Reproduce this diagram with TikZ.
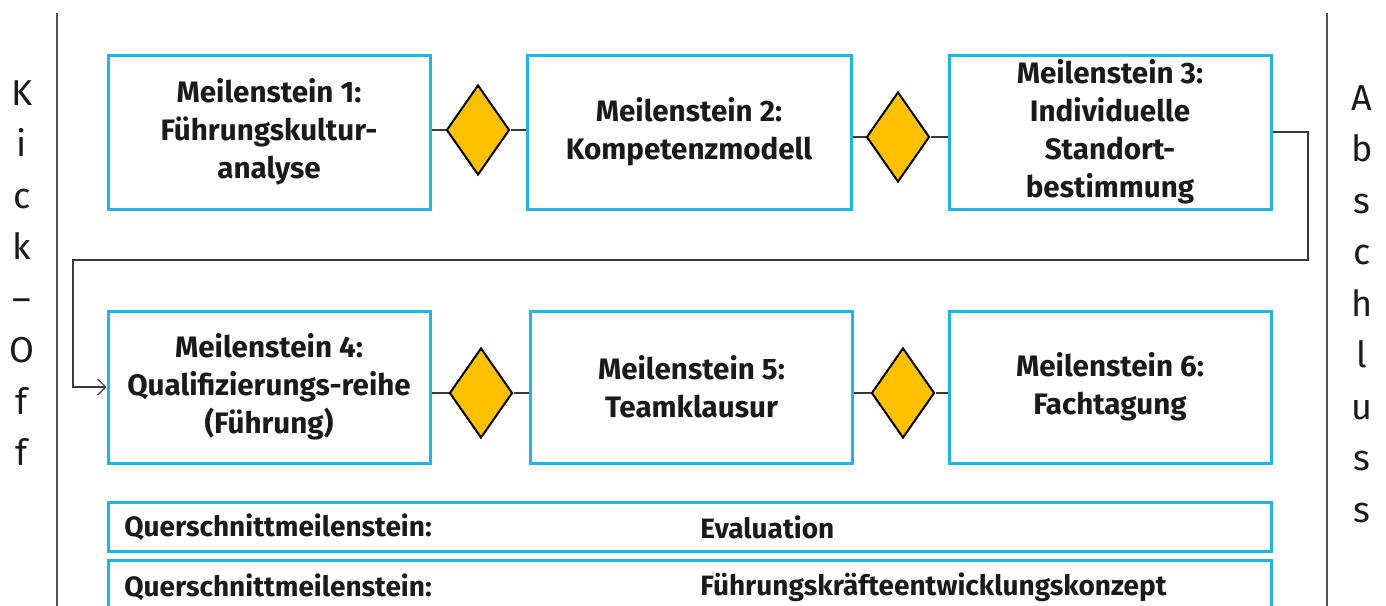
\documentclass[tikz,border=0pt]{standalone}
\usepackage{fontspec}
\setmainfont{Fira Sans}
\usetikzlibrary{shapes.geometric,arrows.meta}
\definecolor{msblue}{HTML}{22B5E3}
\definecolor{msgold}{HTML}{FFC000}
\definecolor{linegray}{HTML}{3A3A3A}
\definecolor{railgray}{HTML}{555555}
\definecolor{inkgray}{HTML}{1A1A1A}

\begin{document}
\begin{tikzpicture}[x=0.5pt,y=-0.5pt,
  milestone/.style={draw=msblue, line width=1.5pt, minimum width=161pt,
    minimum height=77pt, align=center, inner sep=0pt, text=inkgray,
    font=\bfseries\fontsize{14.8}{19}\selectfont},
  gate/.style={diamond, draw=black, line width=1pt, fill=msgold,
    minimum width=31.5pt, minimum height=45pt, inner sep=0pt},
  link/.style={draw=linegray, line width=0.6pt},
  crossbar/.style={draw=msblue, line width=1.5pt, minimum width=581.5pt,
    minimum height=24.5pt, inner sep=0pt},
  crosstext/.style={anchor=west, inner sep=0pt, text=inkgray,
    font=\bfseries\fontsize{14}{16}\selectfont},
  rail/.style={draw=railgray, line width=1pt},
  sideword/.style={align=center, inner sep=0pt, text=inkgray,
    font=\fontsize{18}{25.75}\selectfont}
]
\clip (0,0) rectangle (1386,605);

% start and end rails
\coordinate (kickTop) at (57,13);
\coordinate (kickBot) at (57,610);
\coordinate (endTop) at (1327,13);
\coordinate (endBot) at (1327,610);
\draw[rail] (kickTop) -- (kickBot);
\draw[rail] (endTop) -- (endBot);
\node[sideword] (kick) at (22,273) {K\\i\\c\\k\\–\\O\\f\\f};
\node[sideword] (abschluss) at (1362,304) {A\\b\\s\\c\\h\\l\\u\\s\\s};

% first row of milestones
\node[milestone] (m1) at (269,132) {Meilenstein 1:\\Führungskultur-\\analyse};
\node[milestone, minimum width=162pt] (m2) at (689,132) {Meilenstein 2:\\Kompetenzmodell};
\node[milestone] (m3) at (1110,132) {Meilenstein 3:\\Individuelle\\Standort-\\bestimmung};
\node[gate] (g1) at (478,130) {};
\node[gate] (g2) at (898,137) {};

% second row of milestones
\node[milestone, minimum height=76pt] (m4) at (269,387) {Meilenstein 4:\\Qualifizierungs-reihe\\(Führung)};
\node[milestone, minimum height=76pt] (m5) at (691.5,387) {Meilenstein 5:\\Teamklausur};
\node[milestone, minimum height=76pt] (m6) at (1110,387) {Meilenstein 6:\\Fachtagung};
\node[gate] (g3) at (481,393) {};
\node[gate] (g4) at (903,393) {};

% links between milestones and gates
\draw[link] (m1.east |- g1.west) -- (g1.west);
\draw[link] (g1.east) -- (g1.east -| m2.west);
\draw[link] (m2.east |- g2.west) -- (g2.west);
\draw[link] (g2.east) -- (g2.east -| m3.west);
\draw[link] (m4.east |- g3.west) -- (g3.west);
\draw[link] (g3.east) -- (g3.east -| m5.west);
\draw[link] (m5.east |- g4.west) -- (g4.west);
\draw[link] (g4.east) -- (g4.east -| m6.west);

% return path from row one to row two
\coordinate (turnR) at (1308,260);
\coordinate (turnL) at (73,260);
\draw[link, -{Straight Barb[length=4pt,width=8pt]}]
  (m3.east) -| (turnR) -- (turnL) |- (m4.west);

% cross-cutting milestones
\node[crossbar] (q1) at (689.5,526.5) {};
\node[crossbar] (q2) at (689.5,584.5) {};
\node[crosstext] (q1a) at (124,527) {Querschnittmeilenstein:};
\node[crosstext] (q1b) at (700,527) {Evaluation};
\node[crosstext] (q2a) at (124,587) {Querschnittmeilenstein:};
\node[crosstext] (q2b) at (700,587) {Führungskräfteentwicklungskonzept};
\end{tikzpicture}
\end{document}
